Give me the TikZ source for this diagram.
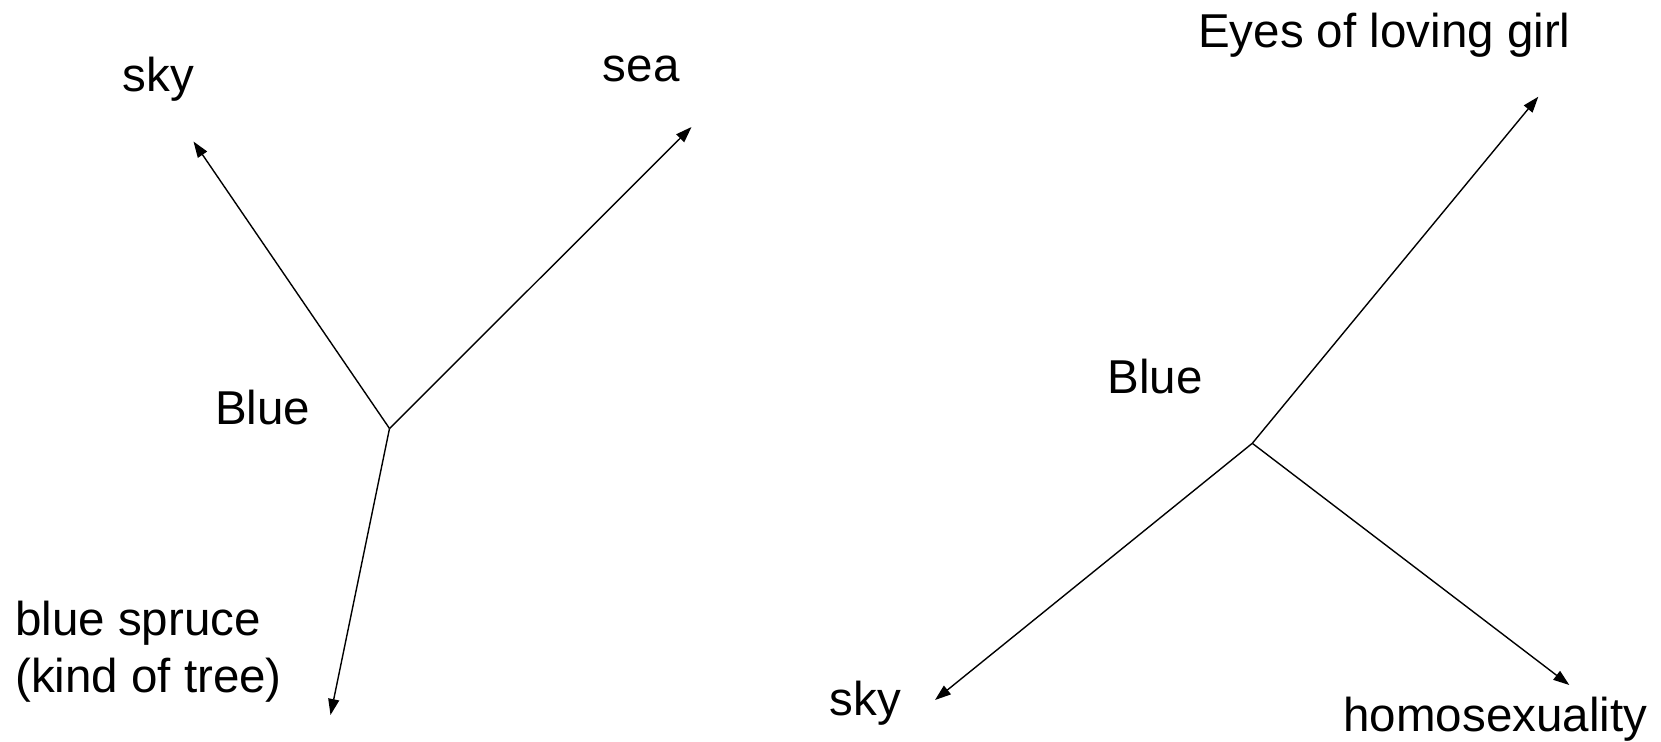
\documentclass[tikz,border=0pt]{standalone}
\usepackage{fontspec}
\setmainfont{Liberation Sans}
\usetikzlibrary{arrows.meta}
\begin{document}
\begin{tikzpicture}[x=1pt,y=-1pt,
  lbl/.style={inner sep=0pt,anchor=base west,font=\fontsize{47.5}{57}\selectfont,align=left},
  conn/.style={line width=1.4pt,-{Triangle[length=16pt,width=11pt]}}]
\useasboundingbox (0,0) rectangle (1661,741);
% left diagram
\coordinate (c1) at (389.5,428.5);
\coordinate (t1) at (193.5,141.5);
\coordinate (t2) at (691.5,127);
\coordinate (t3) at (330.5,715);
\node[lbl] (sky1) at (122.7,91.7) {sky};
\node[lbl] (sea) at (602.7,81.7) {sea};
\node[lbl] (blue1) at (215,424) {Blue};
\node[lbl,anchor=north west] (spruce) at (15,601) {blue spruce\\(kind of tree)};
\draw[conn] (c1) -- (t1);
\draw[conn] (c1) -- (t2);
\draw[conn] (c1) -- (t3);
% right diagram
\coordinate (c2) at (1252.3,443.3);
\coordinate (u1) at (1538.3,96.7);
\coordinate (u2) at (935,700);
\coordinate (u3) at (1569.3,685);
\node[lbl] (eyes) at (1198,47.7) {Eyes of loving girl};
\node[lbl] (blue2) at (1107.3,393.3) {Blue};
\node[lbl] (sky2) at (829.3,715) {sky};
\node[lbl] (homo) at (1343.3,731) {homosexuality};
\draw[conn] (c2) -- (u1);
\draw[conn] (c2) -- (u2);
\draw[conn] (c2) -- (u3);
\end{tikzpicture}
\end{document}
